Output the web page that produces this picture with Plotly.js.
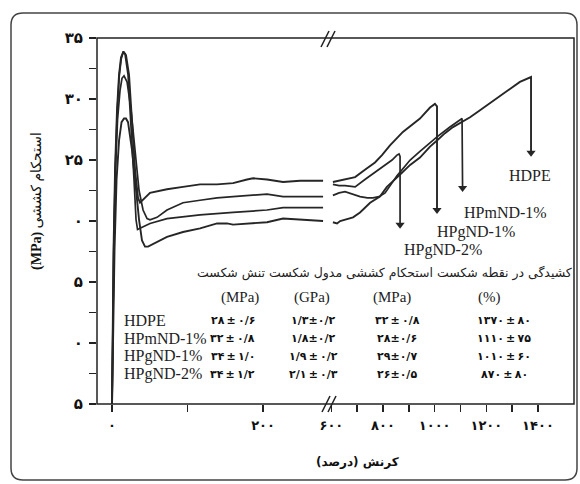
<!DOCTYPE html>
<html><head><meta charset="utf-8">
<script src="https://cdn.plot.ly/plotly-3.0.1.min.js"></script>
<style>html,body{margin:0;padding:0;background:#fff}#chart{width:580px;height:484px}</style>
</head><body><div id="chart"></div>
<script>
// ---- data: strain (%) and stress (MPa) ----
// left panel (0 – ~290 %)
const hdpeLeftX = [0,1.3,3.3,6.0,9.3,12.6,15.9,18.5,21.2,26.5,31.8,35.8,39.7,43.7,47.7,59.6,72.8,94.0,116.6,139.1,152.3,160.3,182.8,205.3,226.5,249.0,279.5];
const hdpeLeftY = [5.0,11.1,17.6,23.4,26.6,28.1,28.4,28.4,28.1,25.8,22.5,20.1,18.4,17.9,17.9,18.3,18.7,19.1,19.4,19.8,19.8,19.7,19.8,19.9,20.2,20.1,20.0];
const hpmLeftX = [0,1.1,2.4,4.6,7.3,10.6,13.2,15.9,19.9,25.2,30.5,35.8,41.1,46.4,50.3,59.6,72.8,94.0,116.6,139.1,160.3,182.8,205.3,226.5,249.0,279.5];
const hpmLeftY = [5.0,11.1,17.6,24.2,28.3,30.7,31.7,31.9,31.4,29.1,25.8,22.5,20.9,20.2,20.1,20.3,20.9,21.5,21.7,21.9,22.0,22.1,22.2,22.0,22.0,22.0];
const hpg1LeftX = [0,0.7,2.0,4.0,6.6,9.3,11.9,15.2,18.5,22.5,26.5,30.5,34.4,37.1,50.3,72.8,94.0,116.6,139.1,160.3,178.8,186.8,205.3,226.5,249.0,279.5];
const hpg1LeftY = [5.0,11.1,17.6,24.2,29.1,32.0,33.4,33.9,33.6,32.0,28.3,24.2,21.9,21.5,22.3,22.6,22.8,23.0,23.0,23.1,23.4,23.5,23.4,23.2,23.3,23.3];
const hpg2LeftX = [0,0.8,2.2,4.3,6.9,9.6,12.2,14.6,17.2,21.2,25.2,29.1,31.8,33.8,37.1,50.3,72.8,116.6,160.3,205.3,226.5,279.5];
const hpg2LeftY = [5.0,11.1,17.6,24.2,29.0,31.9,33.3,33.8,33.7,32.0,27.9,23.4,20.1,19.3,19.4,19.8,20.2,20.5,20.7,20.9,21.1,21.1];
// right panel (~600 – 1540 %), last point = drop after fracture
const hdpeRightX = [606,622,634,652,684,711,750,788,815,866,905,943,982,1009,1040,1071,1104,1137,1170,1203,1240,1280,1330,1373,1373];
const hdpeRightY = [19.9,19.8,20.0,20.1,20.3,20.7,21.5,22.0,22.8,23.8,24.6,25.2,26.1,26.6,27.2,27.7,28.1,28.5,29.0,29.5,30.1,30.7,31.4,31.8,25.6];
const hpmRightX = [606,630,653,680,711,740,761,785,808,854,905,943,1009,1059,1090,1106,1108];
const hpmRightY = [22.1,22.3,22.4,22.2,22.0,21.9,21.9,22.0,22.3,23.7,25.0,25.7,26.9,27.7,28.2,28.4,22.7];
const hpg1RightX = [606,630,653,692,730,769,796,827,877,943,982,1001,1009,1009];
const hpg1RightY = [23.2,23.3,23.4,23.6,24.2,24.8,25.4,26.2,27.3,28.4,29.3,29.6,29.4,20.9];
const hpg2RightX = [606,630,653,692,730,769,808,835,854,862,866,866];
const hpg2RightY = [23.0,22.9,22.9,22.8,23.4,24.0,24.6,25.0,25.4,25.5,25.3,19.7];
// fracture arrows
const arrowX = [1373,1108,1009,866];
const arrowY = [25.6,22.7,20.9,19.7];
const seriesNames = ['HDPE','HPmND-1%','HPgND-1%','HPgND-2%'];
// axis ticks
const yTickVals = [5,7.5,10,12.5,15,17.5,20,22.5,25,27.5,30,32.5,35];
const yTickText = ['۵','','۰','','۵','','۰','','۲۵','','۳۰','','۳۵'];
const x1TickVals = [0,100,200];
const x1TickText = ['۰','','۲۰۰'];
const x2TickVals = [600,700,800,900,1000,1100,1200,1300,1400];
const x2TickText = ['۶۰۰','','۸۰۰','','۱۰۰۰','','۱۲۰۰','','۱۴۰۰'];
// table inside the plot
const tableHeader = ['کشیدگی در نقطه شکست','استحکام کششی','مدول شکست','تنش شکست'];
const tableUnits = ['(MPa)','(GPa)','(MPa)','(%)'];
const colBreakStress = ['۲۸ ± ۰/۶','۳۲ ± ۰/۸','۳۴ ± ۱/۰','۳۴ ± ۱/۲'];
const colModulus = ['۱/۳±۰/۲','۱/۸±۰/۲','۱/۹ ± ۰/۲','۲/۱ ± ۰/۳'];
const colTensile = ['۳۲ ± ۰/۸','۲۸±۰/۶','۲۹±۰/۷','۲۶±۰/۵'];
const colElong = ['۱۳۷۰ ± ۸۰','۱۱۱۰ ± ۷۵','۱۰۱۰ ± ۶۰','۸۷۰ ± ۸۰'];

const lineColor = '#262626';
function tr(x, y, xa, w) {
  return {x: x, y: y, xaxis: xa, yaxis: 'y', type: 'scatter', mode: 'lines',
    line: {color: lineColor, width: w || 1.9}, hoverinfo: 'skip', showlegend: false};
}
const data = [
  tr(hdpeLeftX, hdpeLeftY, 'x'), tr(hpmLeftX, hpmLeftY, 'x', 1.7),
  tr(hpg1LeftX, hpg1LeftY, 'x'), tr(hpg2LeftX, hpg2LeftY, 'x', 1.7),
  tr(hdpeRightX, hdpeRightY, 'x2'), tr(hpmRightX, hpmRightY, 'x2', 1.7),
  tr(hpg1RightX, hpg1RightY, 'x2'), tr(hpg2RightX, hpg2RightY, 'x2', 1.7),
  {x: arrowX, y: arrowY, xaxis: 'x2', yaxis: 'y', type: 'scatter', mode: 'markers',
   marker: {symbol: 'triangle-down', size: 8, color: lineColor}, hoverinfo: 'skip', showlegend: false}
];

const persian = 'DejaVu Sans';
const serif = 'Liberation Serif';
const tickFont = {family: persian, size: 13, color: '#111', weight: 700};
const xCommon = {ticks: 'outside', ticklen: 7, tickwidth: 1.4, tickcolor: '#222',
  showgrid: false, zeroline: false, showline: false, tickfont: tickFont, anchor: 'y',
  ticklabelstandoff: 2};

const ann = [];
const px = v => (v - 97) / 477, py = v => (404 - v) / 366;
const thin = s => s.replace(/ /g, '\u2009');
function note(xp, yp, text, font, xanchor, extra) {
  return Object.assign({xref: 'paper', yref: 'paper', x: px(xp), y: py(yp), text: text, font: font,
    showarrow: false, xanchor: xanchor || 'center', yanchor: 'middle'}, extra || {});
}
// y title
ann.push(note(37, 201, '<b>(MPa)</b> استحکام کششی', {family: serif + ', ' + persian, size: 14, color: '#111'}, 'center', {textangle: -90}));
// x title
ann.push(note(357, 462, '\u200Fکرنش (درصد)\u200F', {family: persian, size: 12, color: '#111', weight: 700}));
// series labels
const lblPos = [[530,175],[505,212],[476,232],[443,250]];
seriesNames.forEach((n, i) => ann.push(note(lblPos[i][0], lblPos[i][1], n, {family: serif, size: 16, color: '#222'})));
// table header
ann.push(note(574, 273, tableHeader.join(' '), {family: persian, size: 12.5, color: '#222'}, 'right'));
const unitX = [240, 312, 392, 489];
tableUnits.forEach((u, i) => ann.push(note(unitX[i], 297, u, {family: serif, size: 15, color: '#222'})));
const rowY = [320, 338, 356, 374];
const valFont = {family: persian, size: 11, color: '#111', weight: 700};
seriesNames.forEach((n, i) => {
  ann.push(note(122, rowY[i], n, {family: serif, size: 16, color: '#222'}, 'left'));
  ann.push(note(257, rowY[i], thin(colBreakStress[i]), valFont, 'right'));
  ann.push(note(313, rowY[i], thin(colModulus[i]), valFont));
  ann.push(note(397, rowY[i], thin(colTensile[i]), valFont));
  ann.push(note(504, rowY[i], thin(colElong[i]), valFont));
});

const L = px(11), R = px(577), T = py(13), B = py(480), rx = 12/477, ry = 12/366;
const outerPath = `M ${L+rx},${T} L ${R-rx},${T} Q ${R},${T} ${R},${T-ry} L ${R},${B+ry} Q ${R},${B} ${R-rx},${B} L ${L+rx},${B} Q ${L},${B} ${L},${B+ry} L ${L},${T-ry} Q ${L},${T} ${L+rx},${T} Z`;
const shapes = [
  {type: 'rect', xref: 'paper', yref: 'paper', x0: 0, x1: 1, y0: 0, y1: 1, line: {color: '#222', width: 1.5}},
  {type: 'path', xref: 'paper', yref: 'paper', path: outerPath, line: {color: '#444', width: 1.5}},
  {type: 'line', xref: 'paper', yref: 'paper', x0: px(321), y0: py(47), x1: px(329), y1: py(31), line: {color: '#222', width: 1.5}},
  {type: 'line', xref: 'paper', yref: 'paper', x0: px(327), y0: py(47), x1: px(335), y1: py(31), line: {color: '#222', width: 1.5}},
  {type: 'line', xref: 'paper', yref: 'paper', x0: px(322), y0: py(412), x1: px(330), y1: py(396), line: {color: '#222', width: 1.5}},
  {type: 'line', xref: 'paper', yref: 'paper', x0: px(328), y0: py(412), x1: px(336), y1: py(396), line: {color: '#222', width: 1.5}}
];

const layout = {
  width: 580, height: 484,
  margin: {l: 97, r: 6, t: 38, b: 80},
  paper_bgcolor: '#fff', plot_bgcolor: '#fff',
  showlegend: false,
  xaxis: Object.assign({}, xCommon, {domain: [0, 0.4885], range: [-19.9, 288.7], tickvals: x1TickVals, ticktext: x1TickText}),
  xaxis2: Object.assign({}, xCommon, {domain: [0.4885, 1], range: [594.8, 1539.4], tickvals: x2TickVals, ticktext: x2TickText}),
  yaxis: {range: [5, 35], anchor: 'x', tickvals: yTickVals, ticktext: yTickText, ticks: 'outside', ticklen: 7,
    tickwidth: 1.4, tickcolor: '#222', showgrid: false, zeroline: false, showline: false,
    tickfont: {family: persian, size: 15, color: '#111', weight: 700}, ticklabelstandoff: 3},
  annotations: ann,
  shapes: shapes
};
Plotly.newPlot('chart', data, layout, {staticPlot: true, displayModeBar: false});
</script></body></html>
